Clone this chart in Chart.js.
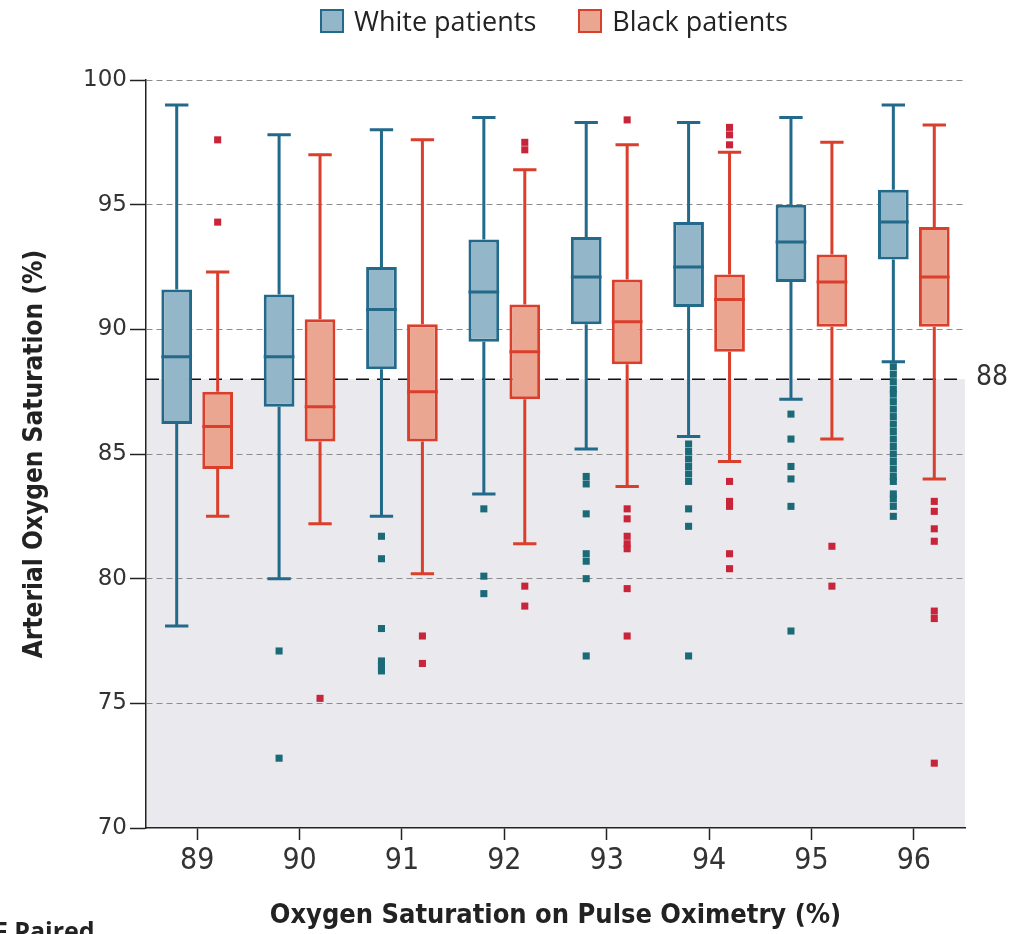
<!DOCTYPE html>
<html>
<head>
<meta charset="utf-8">
<script src="https://cdn.jsdelivr.net/npm/chart.js@4.4.0/dist/chart.umd.min.js"></script>
<style>
    body { margin: 0; background: #fff; overflow: hidden; }
    #wrap { position: relative; width: 1025px; height: 934px; }
    #legend {
        position: absolute; top: 2px; left: 320px;
        display: flex; gap: 42px;
        font-family: "Open Sans", "Noto Sans", sans-serif; font-size: 27px; color: #222;
    }
    #legend .item { display: flex; align-items: center; }
    #legend .box { width: 24px; height: 24px; box-sizing: border-box; border: 2px solid; margin-right: 10px; }
    #panel_tag {
        position: absolute; left: -6px; top: 913px;
        font-family: "Open Sans", "Noto Sans", sans-serif; font-weight: bold; font-size: 25px; color: #222;
    }
</style>
</head>
<body>
<div id="wrap">
    <canvas id="chart" width="1025" height="934"></canvas>
    <div id="legend"></div>
    <div id="panel_tag">F Paired</div>
</div>
<script>
// pulse oximetry reading (%) on the x axis
const pulse_labels = ['89', '90', '91', '92', '93', '94', '95', '96'];

// arterial saturation (%), white patients
const white_low    = [78.1, 80.0, 82.5, 83.4, 85.2, 85.7, 87.2, 88.7];
const white_q1     = [86.2, 86.9, 88.4, 89.5, 90.2, 90.9, 91.9, 92.8];
const white_median = [88.9, 88.9, 90.8, 91.5, 92.1, 92.5, 93.5, 94.3];
const white_q3     = [91.6, 91.4, 92.5, 93.6, 93.7, 94.3, 95.0, 95.6];
const white_high   = [99.0, 97.8, 98.0, 98.5, 98.3, 98.3, 98.5, 99.0];
const white_outliers = [
    [],
    [77.1, 72.8],
    [81.7, 80.8, 78.0, 76.7, 76.5, 76.3],
    [82.8, 80.1, 79.4],
    [84.1, 83.8, 82.6, 81.0, 80.7, 80.0, 76.9],
    [85.4, 85.1, 84.8, 84.5, 84.2, 83.9, 82.8, 82.1, 76.9],
    [86.6, 85.6, 84.5, 84.0, 82.9, 77.9],
    [88.5, 88.2, 87.9, 87.6, 87.4, 87.1, 86.8, 86.5, 86.2, 85.9, 85.6, 85.3, 85.0, 84.7, 84.4, 84.1, 83.9, 83.4, 83.2, 82.9, 82.5]
];

// arterial saturation (%), black patients
const black_low    = [82.5, 82.2, 80.2, 81.4, 83.7, 84.7, 85.6, 84.0];
const black_q1     = [84.4, 85.5, 85.5, 87.2, 88.6, 89.1, 90.1, 90.1];
const black_median = [86.1, 86.9, 87.5, 89.1, 90.3, 91.2, 91.9, 92.1];
const black_q3     = [87.5, 90.4, 90.2, 91.0, 92.0, 92.2, 93.0, 94.1];
const black_high   = [92.3, 97.0, 97.6, 96.4, 97.4, 97.1, 97.5, 98.2];
const black_outliers = [
    [97.6, 94.3],
    [75.2],
    [77.7, 76.6],
    [97.5, 97.2, 79.7, 78.9],
    [98.4, 82.8, 82.4, 81.7, 81.4, 81.2, 79.6, 77.7],
    [98.1, 97.8, 97.4, 83.9, 83.1, 82.9, 81.0, 80.4],
    [81.3, 79.7],
    [83.1, 82.7, 82.0, 81.5, 78.7, 78.4, 72.6]
];

const threshold = 88;

const white_fill = '#94b6c9', white_line = '#22698a', white_dot = '#1b6a78';
const black_fill = '#eba692', black_line = '#da3f2c', black_dot = '#c8243a';
const group_shift = 0.2;  // half the distance between the paired boxes, in categories

function box_points(q1, q3, shift) {
    return q1.map((q, i) => ({x: i + shift, y: [q, q3[i]]}));
}

function outlier_points(lists, shift) {
    const pts = [];
    lists.forEach((list, i) => {
        for (const v of list) {
            pts.push({x: i + shift, y: v});
        }
    });
    return pts;
}

const stats = {
    0: {low: white_low, median: white_median, high: white_high, color: white_line},
    1: {low: black_low, median: black_median, high: black_high, color: black_line}
};

// whiskers, caps and medians, placed from the bar elements and the y scale
const box_parts = {
    id: 'box_parts',
    afterDatasetDraw(chart, args) {
        const s = stats[args.index];
        if (!s) return;
        const y = chart.scales.y;
        const ctx = chart.ctx;
        ctx.save();
        ctx.strokeStyle = s.color;
        ctx.lineWidth = 3;
        args.meta.data.forEach((bar, i) => {
            const top = Math.min(bar.y, bar.base);
            const bottom = Math.max(bar.y, bar.base);
            const hi = y.getPixelForValue(s.high[i]);
            const lo = y.getPixelForValue(s.low[i]);
            const med = y.getPixelForValue(s.median[i]);
            const cap = bar.width * 0.38;
            ctx.beginPath();
            ctx.moveTo(bar.x, top); ctx.lineTo(bar.x, hi);
            ctx.moveTo(bar.x, bottom); ctx.lineTo(bar.x, lo);
            ctx.moveTo(bar.x - cap, hi); ctx.lineTo(bar.x + cap, hi);
            ctx.moveTo(bar.x - cap, lo); ctx.lineTo(bar.x + cap, lo);
            ctx.moveTo(bar.x - bar.width / 2, med); ctx.lineTo(bar.x + bar.width / 2, med);
            ctx.stroke();
        });
        ctx.restore();
    }
};

// grey band below the 88% threshold and its dashed line
const threshold_band = {
    id: 'threshold_band',
    beforeDraw(chart) {
        const {ctx, chartArea: a, scales: {y}} = chart;
        const yt = y.getPixelForValue(threshold);
        ctx.save();
        ctx.fillStyle = '#eaeaee';
        ctx.fillRect(a.left, yt, a.right - a.left, a.bottom - yt);
        ctx.restore();
    },
    beforeDatasetsDraw(chart) {
        const {ctx, chartArea: a, scales: {y}} = chart;
        const yt = y.getPixelForValue(threshold);
        ctx.save();
        ctx.strokeStyle = '#111';
        ctx.lineWidth = 1.6;
        ctx.setLineDash([13, 8]);
        ctx.beginPath();
        ctx.moveTo(a.left, yt);
        ctx.lineTo(a.right, yt);
        ctx.stroke();
        ctx.setLineDash([]);
        ctx.fillStyle = '#333';
        ctx.font = '28px "Liberation Sans Narrow", "DejaVu Sans Condensed", sans-serif';
        ctx.textBaseline = 'middle';
        ctx.fillText(String(threshold), a.right + 11, yt - 1);
        ctx.restore();
    }
};

const html_legend = {
    id: 'html_legend',
    afterUpdate(chart) {
        const el = document.getElementById('legend');
        el.innerHTML = '';
        chart.data.datasets.slice(0, 2).forEach(ds => {
            const item = document.createElement('div');
            item.className = 'item';
            const box = document.createElement('span');
            box.className = 'box';
            box.style.background = ds.backgroundColor;
            box.style.borderColor = ds.borderColor;
            const text = document.createElement('span');
            text.textContent = ds.label;
            item.append(box, text);
            el.append(item);
        });
    }
};

const narrow = '"Liberation Sans Narrow", "DejaVu Sans Condensed", sans-serif';

new Chart(document.getElementById('chart'), {
    type: 'bar',
    data: {
        labels: pulse_labels,
        datasets: [
            {
                label: 'White patients',
                data: box_points(white_q1, white_q3, -group_shift),
                xAxisID: 'xo',
                grouped: false,
                backgroundColor: white_fill,
                borderColor: white_line,
                borderWidth: 3,
                borderSkipped: false,
                categoryPercentage: 1,
                barPercentage: 0.75
            },
            {
                label: 'Black patients',
                data: box_points(black_q1, black_q3, group_shift),
                xAxisID: 'xo',
                grouped: false,
                backgroundColor: black_fill,
                borderColor: black_line,
                borderWidth: 3,
                borderSkipped: false,
                categoryPercentage: 1,
                barPercentage: 0.75
            },
            {
                type: 'scatter',
                label: 'White outliers',
                data: outlier_points(white_outliers, -group_shift),
                xAxisID: 'xo',
                pointStyle: 'rect',
                pointRadius: 5,
                borderWidth: 0,
                backgroundColor: white_dot
            },
            {
                type: 'scatter',
                label: 'Black outliers',
                data: outlier_points(black_outliers, group_shift),
                xAxisID: 'xo',
                pointStyle: 'rect',
                pointRadius: 5,
                borderWidth: 0,
                backgroundColor: black_dot
            }
        ]
    },
    options: {
        responsive: false,
        animation: false,
        devicePixelRatio: 1,
        layout: {padding: {top: 80, right: 60, bottom: 0, left: 0}},
        plugins: {
            legend: {display: false},
            tooltip: {enabled: false}
        },
        scales: {
            x: {
                type: 'category',
                offset: true,
                grid: {display: true, drawOnChartArea: false, drawTicks: true, tickLength: 12, tickColor: '#222', tickWidth: 1.5, offset: false},
                border: {color: '#222', width: 1.5},
                ticks: {font: {family: narrow, size: 30}, color: '#333', padding: 3, maxRotation: 0},
                title: {
                    display: true,
                    text: 'Oxygen Saturation on Pulse Oximetry (%)',
                    font: {family: narrow, size: 27, weight: 'bold'},
                    color: '#222',
                    padding: {top: 0, bottom: 2}
                },
                afterFit(scale) { scale.height = 106; }
            },
            xo: {
                type: 'linear',
                display: false,
                offset: false,
                min: -0.5,
                max: pulse_labels.length - 0.5
            },
            y: {
                min: 70,
                max: 100,
                stacked: false,
                ticks: {stepSize: 5, font: {family: 'DejaVu Sans', size: 23}, color: '#333', padding: 3},
                grid: {
                    color: c => c.tick && c.tick.value === 70 ? 'rgba(0,0,0,0)' : '#8c8c8c',
                    lineWidth: 1,
                    tickLength: 16,
                    tickColor: '#222',
                    tickWidth: 1.5
                },
                border: {color: '#222', width: 1.5, dash: [6, 4]},
                title: {
                    display: true,
                    text: 'Arterial Oxygen Saturation (%)',
                    font: {family: narrow, size: 26, weight: 'bold'},
                    color: '#222',
                    padding: {top: 20, bottom: 0}
                },
                afterFit(scale) { scale.width = 146; }
            }
        }
    },
    plugins: [threshold_band, box_parts, html_legend]
});
</script>
</body>
</html>
